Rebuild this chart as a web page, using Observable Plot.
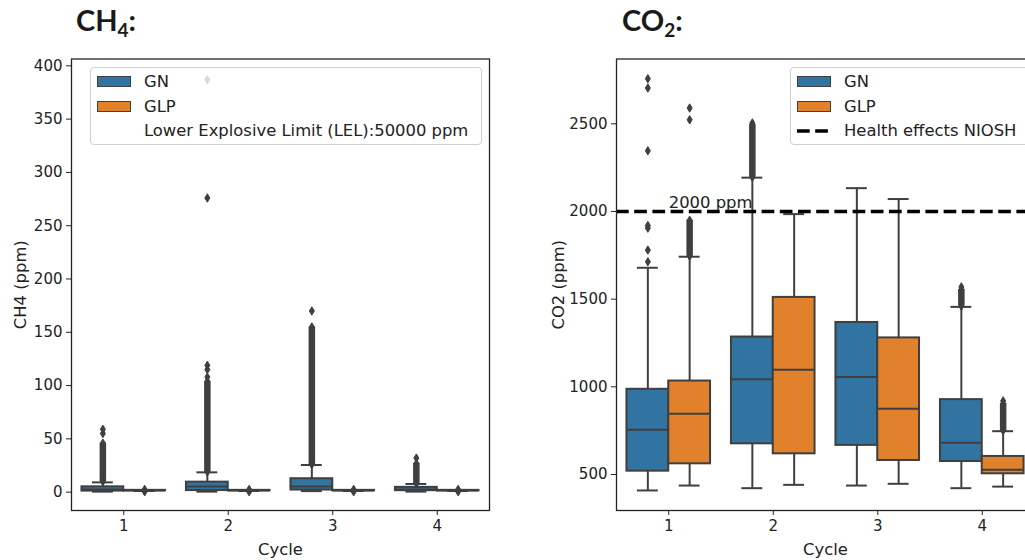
<!DOCTYPE html>
<html>
<head>
<meta charset="utf-8">
<script src="https://cdn.jsdelivr.net/npm/d3@7"></script>
<script src="https://cdn.jsdelivr.net/npm/@observablehq/plot@0.6"></script>
<style>
  html, body { margin: 0; padding: 0; width: 1025px; height: 560px; overflow: hidden; background: #fff; }
  #root { position: relative; width: 1025px; height: 560px; overflow: hidden; }
  .panel { position: absolute; top: 50px; }
  .title { position: absolute; top: 3px; font-family: Lato, "Open Sans", sans-serif; font-weight: 700; font-size: 29px; line-height: 1.2; color: #1a1a1a; white-space: nowrap; }
  .title sub { font-size: 19px; vertical-align: -6px; line-height: 0; }
  .legend { position: absolute; background: rgba(255,255,255,0.8); border: 1px solid #d0d0d0; border-radius: 4px; box-sizing: border-box; font-family: "DejaVu Sans", sans-serif; font-size: 16.4px; color: #222; }
  .legend .row { position: absolute; left: 0; height: 24px; line-height: 24px; white-space: nowrap; }
  .legend .patch { position: absolute; left: 6px; top: 6px; width: 34px; height: 11px; border: 1px solid #3f3f3f; box-sizing: border-box; }
  .legend svg { position: absolute; left: 6px; top: 9px; }
  .legend .lbl { position: absolute; left: 53px; top: 0; }
</style>
</head>
<body>
<div id="root"></div>
<script>
// ---------------- data ----------------
const cycles = [1, 2, 3, 4];
const gases = ["GN", "GLP"];
const gasColors = ["#3274a1", "#e1812c"];

// CH4 (ppm) box statistics per cycle
const ch4_GN_lo  = [0.5, 0.5, 1, 0.5];
const ch4_GN_q1  = [1, 1.5, 2, 1.4];
const ch4_GN_med = [2.5, 5.4, 5.3, 2.5];
const ch4_GN_q3  = [5, 9.4, 12.6, 4.5];
const ch4_GN_hi  = [9.2, 18.6, 25.5, 7.7];
const ch4_GN_dense = [[10, 46], [19, 104], [26, 155], [8, 27]];
const ch4_GN_out = [[55, 59], [108, 115, 119, 276, 387], [170], [32]];

const ch4_GLP_lo  = [1.1, 1.1, 1.1, 1.1];
const ch4_GLP_q1  = [1.3, 1.3, 1.3, 1.3];
const ch4_GLP_med = [1.5, 1.5, 1.5, 1.5];
const ch4_GLP_q3  = [1.7, 1.7, 1.7, 1.7];
const ch4_GLP_hi  = [1.9, 1.9, 1.9, 1.9];
const ch4_GLP_dense = [null, null, null, null];
const ch4_GLP_out = [[0.4, 2.6], [0.4, 2.6], [0.4, 2.6], [0.4, 2.6]];

const ch4Ticks = [0, 50, 100, 150, 200, 250, 300, 350, 400];
const ch4Domain = [-17.2, 406.4];

// CO2 (ppm) box statistics per cycle
const co2_GN_lo  = [409, 422, 437, 422];
const co2_GN_q1  = [519, 675, 666, 574];
const co2_GN_med = [755, 1043, 1056, 681];
const co2_GN_q3  = [986, 1284, 1367, 927];
const co2_GN_hi  = [1679, 2193, 2133, 1456];
const co2_GN_dense = [null, [2195, 2495], null, [1460, 1555]];
const co2_GN_out = [[1713, 1780, 1905, 1920, 2346, 2704, 2757], [2505], [], [1570]];

const co2_GLP_lo  = [437, 441, 447, 431];
const co2_GLP_q1  = [561, 618, 580, 504];
const co2_GLP_med = [847, 1098, 875, 527];
const co2_GLP_q3  = [1033, 1510, 1279, 603];
const co2_GLP_hi  = [1742, 1985, 2071, 747];
const co2_GLP_dense = [[1745, 1950], null, null, [750, 905]];
const co2_GLP_out = [[2523, 2590], [], [], [920]];

const co2Ticks = [500, 1000, 1500, 2000, 2500];
const co2Domain = [294.7, 2869.6];
const nioshLimit = 2000;

// ---------------- helpers ----------------
const lineColor = "#3f3f3f";
const thinDiamond = {
  draw(ctx, size) {
    const r = Math.sqrt(size / Math.PI);
    ctx.moveTo(0, -r);
    ctx.lineTo(0.6 * r, 0);
    ctx.lineTo(0, r);
    ctx.lineTo(-0.6 * r, 0);
    ctx.closePath();
  }
};
const halfW = 0.4; // box width in cycle units
const center = d => d.cycle + (d.gas === "GN" ? -halfW / 2 : halfW / 2);

function boxRows(gas, lo, q1, med, q3, hi) {
  return cycles.map((c, i) => ({cycle: c, gas, lo: lo[i], q1: q1[i], med: med[i], q3: q3[i], hi: hi[i]}));
}
function denseRows(gas, dense) {
  return cycles.map((c, i) => dense[i] ? {cycle: c, gas, from: dense[i][0], to: dense[i][1]} : null).filter(Boolean);
}
function outRows(gas, out) {
  return cycles.flatMap((c, i) => out[i].map(v => ({cycle: c, gas, v})));
}

function boxMarks(rows, dense, outs) {
  const endPts = dense.flatMap(d => [{cycle: d.cycle, gas: d.gas, v: d.from}, {cycle: d.cycle, gas: d.gas, v: d.to}]);
  return [
    Plot.ruleX(rows, {x: center, y1: "lo", y2: "q1", stroke: lineColor, strokeWidth: 2}),
    Plot.ruleX(rows, {x: center, y1: "q3", y2: "hi", stroke: lineColor, strokeWidth: 2}),
    Plot.ruleY(rows, {y: "lo", x1: d => center(d) - halfW / 4, x2: d => center(d) + halfW / 4, stroke: lineColor, strokeWidth: 2}),
    Plot.ruleY(rows, {y: "hi", x1: d => center(d) - halfW / 4, x2: d => center(d) + halfW / 4, stroke: lineColor, strokeWidth: 2}),
    Plot.rect(rows, {
      x1: d => d.gas === "GN" ? d.cycle - halfW : d.cycle,
      x2: d => d.gas === "GN" ? d.cycle : d.cycle + halfW,
      y1: "q1", y2: "q3",
      fill: d => gasColors[gases.indexOf(d.gas)],
      stroke: lineColor, strokeWidth: 2
    }),
    Plot.ruleY(rows, {
      y: "med",
      x1: d => d.gas === "GN" ? d.cycle - halfW : d.cycle,
      x2: d => d.gas === "GN" ? d.cycle : d.cycle + halfW,
      stroke: lineColor, strokeWidth: 2
    }),
    Plot.ruleX(dense, {x: center, y1: "from", y2: "to", stroke: lineColor, strokeWidth: 6.5}),
    Plot.dot(endPts, {x: center, y: "v", symbol: thinDiamond, r: 4.2, fill: lineColor, stroke: lineColor, strokeWidth: 1}),
    Plot.dot(outs, {x: center, y: "v", symbol: thinDiamond, r: 4.2, fill: lineColor, stroke: lineColor, strokeWidth: 1})
  ];
}

function panel({width, marginLeft, marginRight, yDomain, yTicks, yLabel, yLabelDx, extra}) {
  return Plot.plot({
    width, height: 510,
    marginLeft, marginRight, marginTop: 8.5, marginBottom: 50,
    style: {fontFamily: "'DejaVu Sans', sans-serif", fontSize: "15px", color: "#222", background: "transparent", overflow: "visible"},
    x: {domain: [0.5, 4.5], ticks: cycles, tickFormat: d => String(d), tickSize: 5, tickPadding: 5, label: null},
    y: {domain: yDomain, ticks: yTicks, tickFormat: d => String(d), tickSize: 5, tickPadding: 4, label: null},
    marks: [
      ...extra.boxes,
      ...extra.after,
      Plot.frame({stroke: "#222", strokeWidth: 1.3}),
      Plot.text(["Cycle"], {frameAnchor: "bottom", dy: 39, text: d => d, textAnchor: "middle", lineAnchor: "middle", fontSize: 16.4, fill: "#222"}),
      Plot.text([yLabel], {frameAnchor: "left", dx: yLabelDx, text: d => d, rotate: -90, textAnchor: "middle", lineAnchor: "middle", fontSize: 16.4, fill: "#222"})
    ]
  });
}

// ---------------- CH4 panel ----------------
const ch4Boxes = [
  ...boxMarks(boxRows("GN", ch4_GN_lo, ch4_GN_q1, ch4_GN_med, ch4_GN_q3, ch4_GN_hi), denseRows("GN", ch4_GN_dense), outRows("GN", ch4_GN_out)),
  ...boxMarks(boxRows("GLP", ch4_GLP_lo, ch4_GLP_q1, ch4_GLP_med, ch4_GLP_q3, ch4_GLP_hi), denseRows("GLP", ch4_GLP_dense), outRows("GLP", ch4_GLP_out))
];
const left = panel({
  width: 500, marginLeft: 71, marginRight: 11,
  yDomain: ch4Domain, yTicks: ch4Ticks, yLabel: "CH4 (ppm)", yLabelDx: -51,
  extra: {boxes: ch4Boxes, after: []}
});

// ---------------- CO2 panel ----------------
const co2Boxes = [
  ...boxMarks(boxRows("GN", co2_GN_lo, co2_GN_q1, co2_GN_med, co2_GN_q3, co2_GN_hi), denseRows("GN", co2_GN_dense), outRows("GN", co2_GN_out)),
  ...boxMarks(boxRows("GLP", co2_GLP_lo, co2_GLP_q1, co2_GLP_med, co2_GLP_q3, co2_GLP_hi), denseRows("GLP", co2_GLP_dense), outRows("GLP", co2_GLP_out))
];
const right = panel({
  width: 520, marginLeft: 86, marginRight: 16,
  yDomain: co2Domain, yTicks: co2Ticks, yLabel: "CO2 (ppm)", yLabelDx: -58,
  extra: {
    boxes: co2Boxes,
    after: [
      Plot.ruleY([nioshLimit], {y: d => d, stroke: "#000", strokeWidth: 3.4, strokeDasharray: "12.7,5.5"}),
      Plot.text([{x: cycles[0], y: nioshLimit, t: nioshLimit + " ppm"}], {x: "x", y: "y", text: "t", textAnchor: "start", lineAnchor: "bottom", dy: -3, fontSize: 16.4, fill: "#222"})
    ]
  }
});

// ---------------- layout ----------------
const root = document.getElementById("root");
function place(el, leftPx) { el.classList.add("panel"); el.style.left = leftPx + "px"; root.appendChild(el); }
place(left, 0);
place(right, 530);

function title(html, x) {
  const d = document.createElement("div");
  d.className = "title"; d.style.left = x + "px"; d.innerHTML = html;
  root.appendChild(d);
}
title("CH<sub>4</sub>:", 76);
title("CO<sub>2</sub>:", 622);

function legend(x, y, w, h, items) {
  const box = document.createElement("div");
  box.className = "legend";
  Object.assign(box.style, {left: x + "px", top: y + "px", width: w + "px", height: h + "px"});
  items.forEach((it, i) => {
    const row = document.createElement("div");
    row.className = "row";
    row.style.top = (2.5 + i * 24.5) + "px";
    if (it.color) {
      const p = document.createElement("div"); p.className = "patch"; p.style.background = it.color; row.appendChild(p);
    } else if (it.dash) {
      row.insertAdjacentHTML("beforeend",
        '<svg width="34" height="6"><line x1="0" y1="3" x2="34" y2="3" stroke="#000" stroke-width="3.4" stroke-dasharray="12.7,5.5"/></svg>');
    }
    const l = document.createElement("div"); l.className = "lbl"; l.textContent = it.label; row.appendChild(l);
    box.appendChild(row);
  });
  root.appendChild(box);
}
legend(90, 66.5, 392, 78.5, [
  {label: gases[0], color: gasColors[0]},
  {label: gases[1], color: gasColors[1]},
  {label: "Lower Explosive Limit (LEL):50000 ppm"}
]);
legend(790, 66.5, 240, 78.5, [
  {label: gases[0], color: gasColors[0]},
  {label: gases[1], color: gasColors[1]},
  {label: "Health effects NIOSH", dash: true}
]);
</script>
</body>
</html>
